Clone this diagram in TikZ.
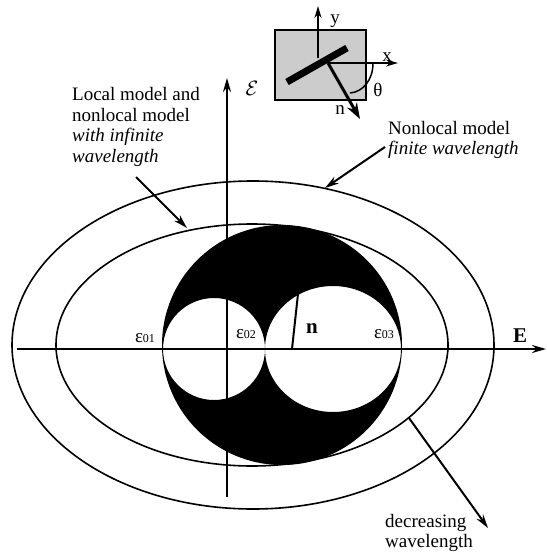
\documentclass[tikz,border=0pt]{standalone}
\usepackage{fontspec}
\setmainfont{Liberation Serif}
\usetikzlibrary{arrows.meta}
\begin{document}
\begin{tikzpicture}[x=1pt,y=-1pt,
  lbl/.style={font=\fontsize{19}{20.5}\selectfont, inner sep=0pt},
  sym/.style={font=\fontsize{19}{19}\selectfont, inner sep=0pt},
  bold/.style={font=\bfseries\fontsize{21}{21}\selectfont, inner sep=0pt},
  curve/.style={line width=1.6pt},
  axis/.style={line width=2pt,-{Stealth[length=14pt,width=8pt]}},
  pointer/.style={line width=2pt,-{Stealth[length=14pt,width=8pt]}},
  small/.style={line width=1.6pt,-{Stealth[length=12pt,width=7pt]}}]
\useasboundingbox (0,0) rectangle (546,556);
% ellipses
\draw[curve] (253,345) ellipse [x radius=241, y radius=164];
\draw[curve] (252,345) ellipse [x radius=196, y radius=121];
% black region
\fill[even odd rule] (282,345) circle [radius=120]
  (214,349) circle [radius=51]
  (333,349) ellipse [x radius=68, y radius=63];
% axes
\coordinate (Ebeg) at (17,349);
\coordinate (Eend) at (546,349);
\coordinate (ebeg) at (227,497);
\coordinate (eend) at (227,78);
\draw[axis] (Ebeg) -- (Eend);
\draw[axis] (ebeg) -- (eend);
% n line
\coordinate (n1) at (292,349);
\coordinate (n2) at (298,294);
\draw[line width=2pt] (n1) -- (n2);
% labels on axis
\node[sym] (e01) at (145,338) {ε{\fontsize{12}{12}\selectfont 01}};
\node[sym] (e02) at (246,334) {ε{\fontsize{12}{12}\selectfont 02}};
\node[sym] (e03) at (384,334) {ε{\fontsize{12}{12}\selectfont 03}};
\node[bold] (nlab) at (312,329) {n};
\node[bold] (Elab) at (520,336) {E};
\node[font=\fontsize{22}{22}\selectfont, inner sep=0pt] (calE) at (252,88) {$\mathcal{E}$};
% inset
\node[draw, line width=1.8pt, fill=gray!40, minimum width=91pt, minimum height=70pt, inner sep=0pt] (inset) at (320.5,65) {};
\coordinate (o) at (328,63);
\coordinate (b1) at (287,82);
\coordinate (b2) at (347,48);
\draw[line width=7pt] (b1) -- (b2);
\coordinate (ya) at (318,58);
\coordinate (yb) at (318,6);
\draw[small] (ya) -- (yb);
\coordinate (xb) at (398,63);
\draw[small] (o) -- (xb);
\coordinate (nt) at (360,119);
\draw[line width=3pt,-{Stealth[length=16pt,width=11pt]}] (o) -- (nt);
\draw[line width=1.5pt] (373,63) .. controls (373,80) and (363,92) .. (350,93);
\node[lbl] (ylab) at (335,21) {y};
\node[lbl] (xlab) at (387,57) {x};
\node[lbl] (thlab) at (378,90) {θ};
\node[lbl] (ninset) at (340,110) {n};
% text labels with pointers
\node[lbl, align=left, anchor=west] (local) at (72,127)
  {Local model and\\nonlocal model\\\textit{with infinite}\\\textit{wavelength}};
\coordinate (lfrom) at (136,177);
\coordinate (lto) at (187,228);
\draw[pointer] (lfrom) -- (lto);
\node[lbl, align=left, anchor=west] (nonloc) at (388,140)
  {Nonlocal model\\\textit{finite wavelength}};
\coordinate (nfrom) at (385,147);
\coordinate (nto) at (325,188);
\draw[pointer] (nfrom) -- (nto);
\node[lbl, align=left, anchor=west] (decr) at (385,533)
  {decreasing\\wavelength};
\coordinate (dfrom) at (409,418);
\coordinate (dto) at (488,528);
\draw[pointer] (dfrom) -- (dto);
\end{tikzpicture}
\end{document}
